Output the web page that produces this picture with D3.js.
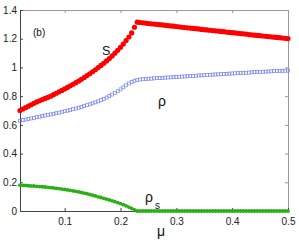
<!DOCTYPE html>
<meta charset="utf-8">
<body style="margin:0;background:#fff">
<svg width="299" height="246"></svg>
<script src="https://d3js.org/d3.v7.min.js"></script>
<script>
  var mu = [0.020, 0.025, 0.030, 0.035, 0.040, 0.045, 0.050, 0.055, 0.060, 0.065,
    0.070, 0.075, 0.080, 0.085, 0.090, 0.095, 0.100, 0.105, 0.110, 0.115,
    0.120, 0.125, 0.130, 0.135, 0.140, 0.145, 0.150, 0.155, 0.160, 0.165,
    0.170, 0.175, 0.180, 0.185, 0.190, 0.195, 0.200, 0.205, 0.210, 0.215,
    0.220, 0.225, 0.230, 0.235, 0.240, 0.245, 0.250, 0.255, 0.260, 0.265,
    0.270, 0.275, 0.280, 0.285, 0.290, 0.295, 0.300, 0.305, 0.310, 0.315,
    0.320, 0.325, 0.330, 0.335, 0.340, 0.345, 0.350, 0.355, 0.360, 0.365,
    0.370, 0.375, 0.380, 0.385, 0.390, 0.395, 0.400, 0.405, 0.410, 0.415,
    0.420, 0.425, 0.430, 0.435, 0.440, 0.445, 0.450, 0.455, 0.460, 0.465,
    0.470, 0.475, 0.480, 0.485, 0.490, 0.495, 0.500];

  var S = [0.700, 0.710, 0.720, 0.730, 0.740, 0.750, 0.760, 0.768, 0.776, 0.784,
    0.792, 0.800, 0.810, 0.820, 0.830, 0.840, 0.850, 0.861, 0.872, 0.883,
    0.894, 0.905, 0.917, 0.930, 0.943, 0.956, 0.970, 0.984, 0.999, 1.014,
    1.029, 1.045, 1.062, 1.080, 1.099, 1.119, 1.140, 1.163, 1.187, 1.212,
    1.240, 1.280, 1.315, 1.313, 1.311, 1.309, 1.306, 1.304, 1.302, 1.300,
    1.298, 1.296, 1.293, 1.291, 1.289, 1.287, 1.285, 1.283, 1.280, 1.278,
    1.276, 1.274, 1.272, 1.270, 1.268, 1.265, 1.263, 1.261, 1.259, 1.257,
    1.255, 1.253, 1.251, 1.249, 1.246, 1.244, 1.242, 1.240, 1.238, 1.236,
    1.234, 1.232, 1.229, 1.227, 1.225, 1.223, 1.221, 1.219, 1.217, 1.215,
    1.213, 1.211, 1.209, 1.207, 1.205, 1.203, 1.201];

  var rho = [0.629, 0.633, 0.637, 0.641, 0.645, 0.649, 0.653, 0.657, 0.661, 0.665,
    0.669, 0.673, 0.677, 0.681, 0.685, 0.690, 0.695, 0.699, 0.704, 0.709,
    0.714, 0.719, 0.725, 0.731, 0.737, 0.743, 0.750, 0.757, 0.764, 0.772,
    0.781, 0.790, 0.800, 0.811, 0.822, 0.834, 0.847, 0.861, 0.875, 0.888,
    0.899, 0.907, 0.912, 0.916, 0.918, 0.920, 0.921, 0.922, 0.924, 0.925,
    0.926, 0.927, 0.929, 0.930, 0.931, 0.932, 0.934, 0.935, 0.936, 0.937,
    0.939, 0.940, 0.941, 0.942, 0.944, 0.945, 0.946, 0.947, 0.948, 0.950,
    0.951, 0.952, 0.953, 0.954, 0.955, 0.957, 0.958, 0.959, 0.960, 0.961,
    0.962, 0.963, 0.964, 0.966, 0.967, 0.968, 0.969, 0.970, 0.971, 0.972,
    0.973, 0.974, 0.975, 0.976, 0.977, 0.977, 0.978];

  var rhoS = [0.180, 0.179, 0.178, 0.176, 0.175, 0.174, 0.172, 0.170, 0.169, 0.167,
    0.165, 0.163, 0.161, 0.158, 0.156, 0.153, 0.150, 0.147, 0.144, 0.140,
    0.137, 0.133, 0.129, 0.124, 0.120, 0.115, 0.110, 0.105, 0.099, 0.094,
    0.088, 0.083, 0.077, 0.071, 0.065, 0.059, 0.052, 0.044, 0.036, 0.027,
    0.018, 0.008, 0, 0, 0, 0, 0, 0, 0, 0,
    0, 0, 0, 0, 0, 0, 0, 0, 0, 0,
    0, 0, 0, 0, 0, 0, 0, 0, 0, 0,
    0, 0, 0, 0, 0, 0, 0, 0, 0, 0,
    0, 0, 0, 0, 0, 0, 0, 0, 0, 0,
    0, 0, 0, 0, 0, 0, 0];

  var xTicks = [0.1, 0.2, 0.3, 0.4, 0.5];
  var yTicks = [0, 0.2, 0.4, 0.6, 0.8, 1, 1.2, 1.4];

  var svg = d3.select("svg");
  var font = "'Liberation Sans', Arial, sans-serif";

  var x = d3.scaleLinear().domain([0.02, 0.5]).range([20, 288]);
  var y = d3.scaleLinear().domain([0, 1.4]).range([211, 10]);

  // frame: top and right in gray
  svg.append('g')
    .attr('transform', 'translate(0,' + y(1.4) + ')')
    .call(d3.axisTop(x).tickValues(xTicks).tickSizeInner(-3).tickSizeOuter(0).tickFormat(''))
    .call(function (g) { g.selectAll('path,line').attr('stroke', '#999'); });
  svg.append('g')
    .attr('transform', 'translate(' + x(0.5) + ',0)')
    .call(d3.axisRight(y).tickValues(yTicks).tickSizeInner(-3).tickSizeOuter(0).tickFormat(''))
    .call(function (g) { g.selectAll('path,line').attr('stroke', '#999'); });

  var xAxis = svg.append('g')
    .attr('transform', 'translate(0,' + y(0) + ')')
    .call(d3.axisBottom(x).tickValues(xTicks).tickSizeInner(-3).tickSizeOuter(0).tickPadding(7)
      .tickFormat(d3.format('')));
  var yAxis = svg.append('g')
    .attr('transform', 'translate(' + x(0.02) + ',0)')
    .call(d3.axisLeft(y).tickValues(yTicks).tickSizeInner(-3).tickSizeOuter(0).tickPadding(3)
      .tickFormat(d3.format('')));

  [xAxis, yAxis].forEach(function (a) {
    a.selectAll('path,line').attr('stroke', '#444');
    a.selectAll('text').attr('fill', '#222').style('font-family', font).style('font-size', '10px');
  });

  var pts = mu.map(function (m, i) {
    return {mu: m, S: S[i], rho: rho[i], rhoS: rhoS[i]};
  });

  // rho: open blue squares
  svg.append('g').selectAll('rect').data(pts).enter().append('rect')
    .attr('x', function (d) { return x(d.mu) - 1.5; })
    .attr('y', function (d) { return y(d.rho) - 1.5; })
    .attr('width', 3).attr('height', 3)
    .attr('fill', 'none').attr('stroke', '#7585f5').attr('stroke-width', 0.7);

  // S: red dots
  svg.append('g').selectAll('circle').data(pts).enter().append('circle')
    .attr('cx', function (d) { return x(d.mu); })
    .attr('cy', function (d) { return y(d.S); })
    .attr('r', 2.6).attr('fill', '#ff0000');

  // rho_s: green dots
  svg.append('g').selectAll('circle').data(pts).enter().append('circle')
    .attr('cx', function (d) { return x(d.mu); })
    .attr('cy', function (d) { return y(d.rhoS); })
    .attr('r', 1.9).attr('fill', '#2aae14');

  // labels
  function label(t, px, py, size) {
    return svg.append('text').attr('x', px).attr('y', py)
      .style('font-family', font).style('font-size', size + 'px').attr('fill', '#111').text(t);
  }
  label('(b)', 33, 36, 10);
  label('S', 102, 55, 12.5);
  label('ρ', 158, 106, 14);
  label('ρ', 145, 202, 14);
  label('s', 155, 209, 10);
  label('μ', 157, 236, 14);
</script>
</body>
